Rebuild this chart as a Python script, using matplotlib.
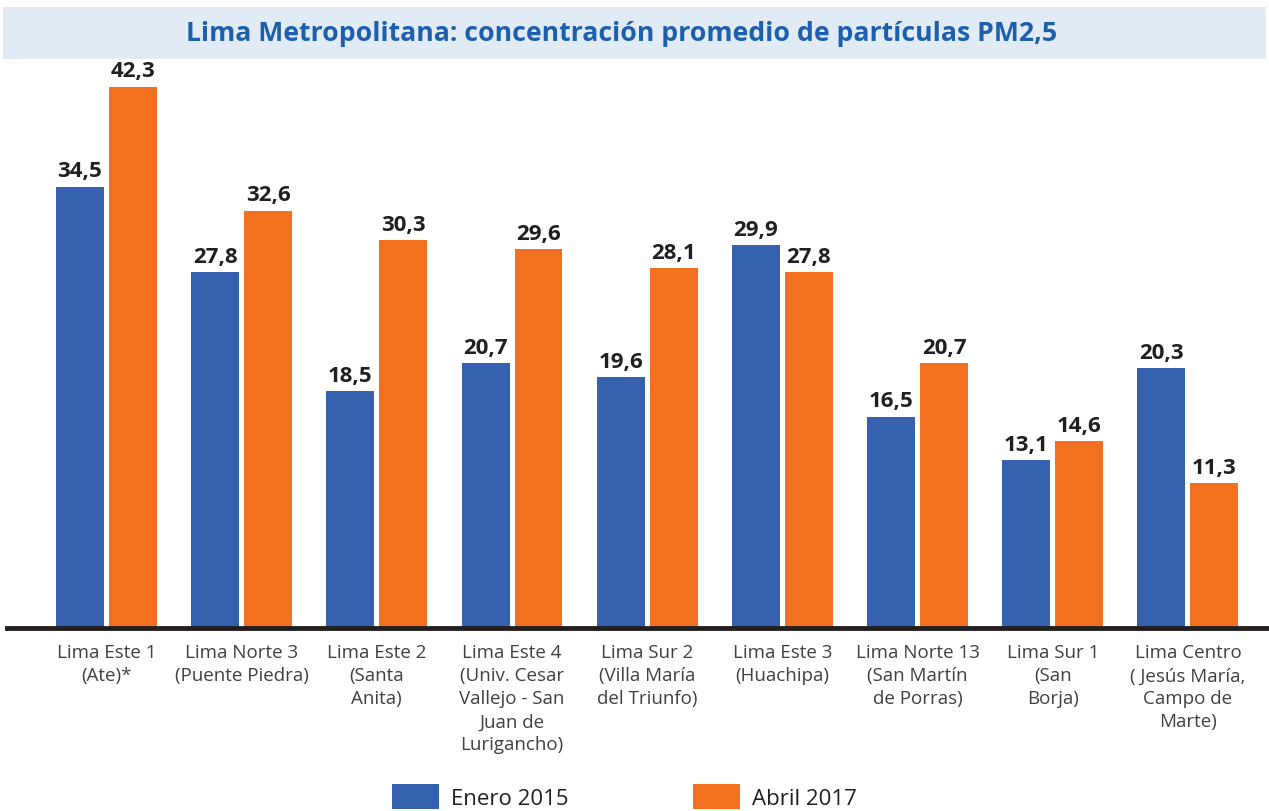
import numpy as np
import matplotlib
matplotlib.use("Agg")
import matplotlib.pyplot as plt
from matplotlib.patches import Rectangle, Patch

plt.rcParams["font.family"] = ["Open Sans", "DejaVu Sans"]

TITLE = "Lima Metropolitana: concentración promedio de partículas PM2,5"

estaciones = [
    "Lima Este 1\n(Ate)*",
    "Lima Norte 3\n(Puente Piedra)",
    "Lima Este 2\n(Santa\nAnita)",
    "Lima Este 4\n(Univ. Cesar\nVallejo - San\nJuan de\nLurigancho)",
    "Lima Sur 2\n(Villa María\ndel Triunfo)",
    "Lima Este 3\n(Huachipa)",
    "Lima Norte 13\n(San Martín\nde Porras)",
    "Lima Sur 1\n(San\nBorja)",
    "Lima Centro\n( Jesús María,\nCampo de\nMarte)",
]
enero_2015 = [34.5, 27.8, 18.5, 20.7, 19.6, 29.9, 16.5, 13.1, 20.3]
abril_2017 = [42.3, 32.6, 30.3, 29.6, 28.1, 27.8, 20.7, 14.6, 11.3]
series_names = ["Enero 2015", "Abril 2017"]

BLUE = "#3561ae"
ORANGE = "#f37021"
TITLE_BLUE = "#1d5fad"
BAND = "#e1ebf5"


def fmt(v):
    return f"{v:.1f}".replace(".", ",")


fig = plt.figure(figsize=(12.69, 8.12), dpi=100)

# franja del titulo
fig.patches.append(Rectangle((0.0024, 0.926), 0.9952, 0.064, transform=fig.transFigure,
                             facecolor=BAND, edgecolor="none", zorder=0))
fig.text(0.49, 0.958, TITLE, ha="center", va="center", fontsize=19.2,
         fontweight="bold", color=TITLE_BLUE)

ax = fig.add_axes([0.0055, 0.2254, 0.9945, 0.698])

x = np.arange(len(estaciones))
w = 0.355
off = 0.196
b1 = ax.bar(x - off, enero_2015, w, color=BLUE, label=series_names[0])
b2 = ax.bar(x + off, abril_2017, w, color=ORANGE, label=series_names[1])

for bars, vals in [(b1, enero_2015), (b2, abril_2017)]:
    for r, v in zip(bars, vals):
        ax.annotate(fmt(v), (r.get_x() + r.get_width() / 2, v), xytext=(0, 4),
                    textcoords="offset points", ha="center", va="bottom",
                    fontsize=16, fontweight="bold", color="#231f20", clip_on=False)

ax.set_xlim(-0.736, 8.6)
ax.set_ylim(0, 44.3)
ax.set_yticks([])
ax.set_xticks(x)
ax.set_xticklabels(estaciones, fontsize=13.5, color="#404040", linespacing=1.36)
ax.tick_params(axis="x", length=0, pad=11)
for s in ["top", "right", "left"]:
    ax.spines[s].set_visible(False)
ax.spines["bottom"].set_linewidth(3.5)
ax.spines["bottom"].set_color("#231f20")
ax.patch.set_alpha(0)

handles = [Patch(facecolor=BLUE), Patch(facecolor=ORANGE)]
fig.legend(handles, series_names, loc="lower center", bbox_to_anchor=(0.492, -0.022),
           ncol=2, frameon=False, fontsize=16, handlelength=2.1, handleheight=1.3,
           handletextpad=0.55, columnspacing=5.6, labelcolor="#231f20")

fig.savefig("out.png", dpi=100)
